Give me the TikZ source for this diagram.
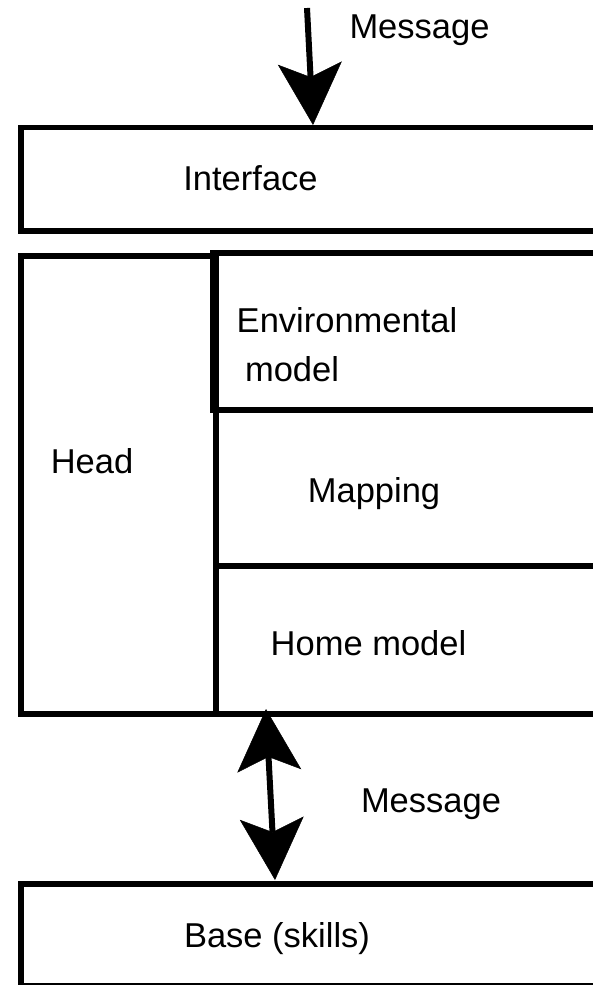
\documentclass[tikz,border=0pt]{standalone}
\usepackage{fontspec}
\setmainfont{Liberation Sans}
\usetikzlibrary{arrows.meta}
\begin{document}
\begin{tikzpicture}[x=1pt,y=-1pt,
  box/.style={draw=black,line width=5.7pt,rectangle,inner sep=0pt,outer sep=0pt,anchor=north west},
  txt/.style={inner sep=0pt,anchor=base,font=\fontsize{34.5}{49}\selectfont},
  bigarrow/.style={line width=6pt,-{Stealth[length=62pt,width=64pt,inset=14pt,line width=0.5pt]}},
  dblarrow/.style={line width=6pt,{Stealth[length=62pt,width=64pt,inset=14pt,line width=0.5pt]}-{Stealth[length=62pt,width=64pt,inset=14pt,line width=0.5pt]}}]
\path[use as bounding box,clip] (0,0) rectangle (593,985);
\fill[white] (0,0) rectangle (593,985);
% boxes
\node[box,minimum width=640pt,minimum height=103.5pt] (iface) at (21,127.5) {};
\node[box,minimum width=195pt,minimum height=458pt] (head) at (21,256) {};
\node[box,minimum width=640pt,minimum height=157pt] (env) at (213,253) {};
\node[box,minimum width=640pt,minimum height=156pt] (map) at (216,410) {};
\node[box,minimum width=640pt,minimum height=148pt] (home) at (216,566) {};
\node[box,minimum width=640pt,minimum height=102pt] (base) at (21,884) {};
% texts
\node[txt] (msgA) at (419.5,38) {Message};
\node[txt] (ifaceT) at (250.5,190) {Interface};
\node[txt] (envA) at (347,332) {Environmental};
\node[txt] (envB) at (292,381) {model};
\node[txt] (headT) at (92,473) {Head};
\node[txt] (mapT) at (374,502) {Mapping};
\node[txt] (homeT) at (368.5,655) {Home model};
\node[txt] (msgB) at (431,812) {Message};
\node[txt] (baseT) at (277,947) {Base (skills)};
% connectors
\coordinate (src) at (307,8);
\coordinate (tx1) at (313,0);
\coordinate (tx2) at (266,0);
\coordinate (tx3) at (275,0);
\draw[bigarrow] (src) -- ([yshift=2.5pt]iface.north west -| tx1);
\draw[dblarrow] ([yshift=5pt]home.south west -| tx2) -- ([yshift=4pt]base.north west -| tx3);
\end{tikzpicture}
\end{document}
